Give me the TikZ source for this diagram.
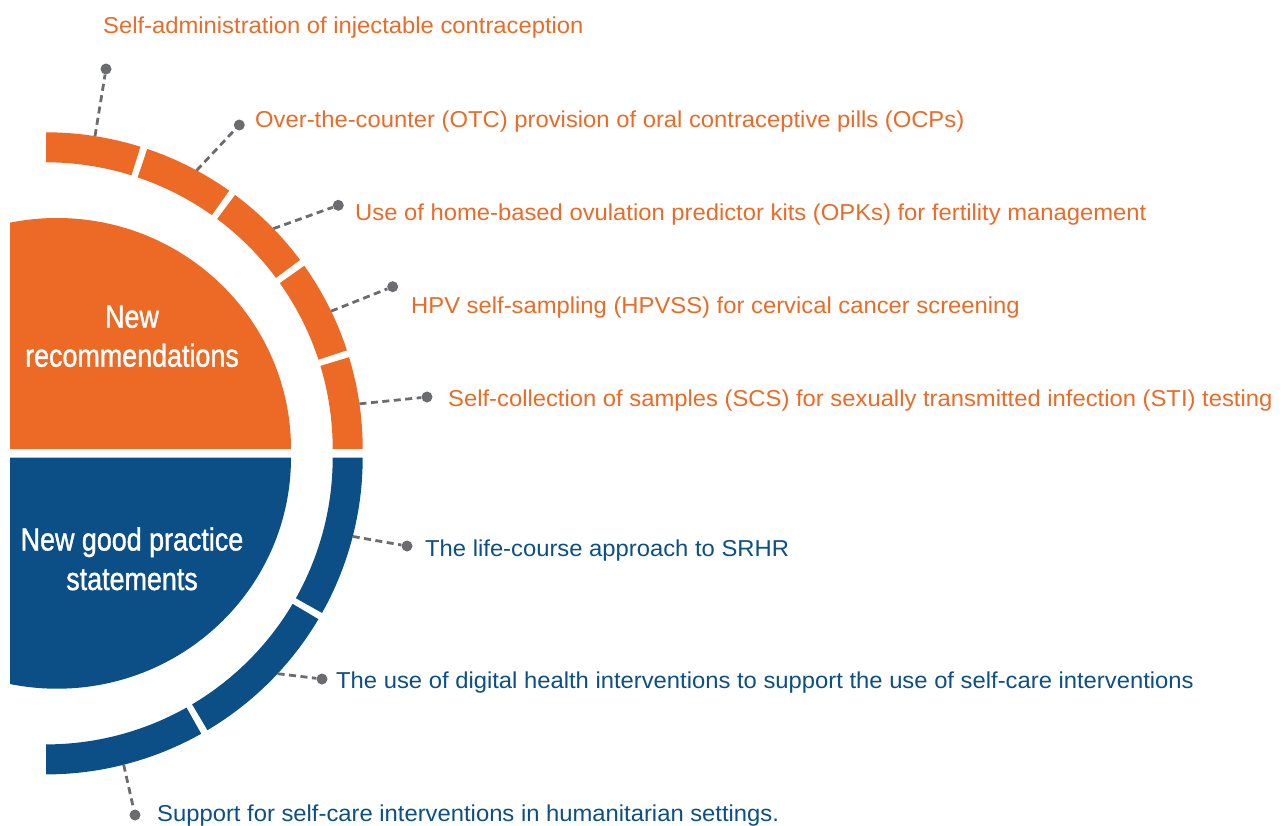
\documentclass[tikz,border=0pt]{standalone}
\usepackage{fontspec}
\setmainfont{Liberation Sans}
\newfontfamily\lblfont[FakeStretch=1.035]{Liberation Sans}
\newfontfamily\discfont[FakeStretch=0.84,FakeBold=1.2]{Liberation Sans}
\usetikzlibrary{calc}
\definecolor{wOrange}{HTML}{EC6A26}
\definecolor{wBlue}{HTML}{0B4F86}
\definecolor{wGray}{HTML}{6B6C70}
\newcommand\ringseg[4]{\fill[#1,shift={(#2)}] (#3:316.7) arc[start angle=#3,end angle=#4,radius=316.7] -- (#4:286.7) arc[start angle=#4,end angle=#3,radius=286.7] -- cycle;}
\begin{document}
\begin{tikzpicture}[x=1pt,y=-1pt,
 conn/.style={wGray, line width=2.8pt, dash pattern=on 7pt off 4.5pt},
 dotn/.style={circle, fill=wGray, inner sep=0pt, minimum size=11pt},
 lab/.style={anchor=base west, inner sep=0pt, font=\lblfont\fontsize{23}{28}\selectfont},
 olab/.style={lab, text=wOrange},
 blab/.style={lab, text=wBlue},
 disclab/.style={anchor=base, inner sep=0pt, text=white, font=\discfont\fontsize{32}{39}\selectfont}]
\useasboundingbox (0,0) rectangle (1283,825);
\coordinate (oc) at (46,449);
\coordinate (bc) at (46,457.7);
\coordinate (odc) at (57,449);
\coordinate (bdc) at (57,457.7);
% inner half discs
\begin{scope}
\clip (10,0) rectangle (1283,825);
\fill[wOrange] ($(odc)+(-234,0)$) arc[start angle=180,end angle=360,x radius=234,y radius=231] -- cycle;
\fill[wBlue] ($(bdc)+(234,0)$) arc[start angle=0,end angle=180,x radius=234,y radius=231] -- cycle;
\end{scope}
% ring segments
\ringseg{wOrange}{oc}{-90}{-72.65}
\ringseg{wOrange}{oc}{-71.35}{-54.65}
\ringseg{wOrange}{oc}{-53.35}{-36.65}
\ringseg{wOrange}{oc}{-35.35}{-18.15}
\ringseg{wOrange}{oc}{-16.85}{0}
\ringseg{wBlue}{bc}{0}{29.35}
\ringseg{wBlue}{bc}{30.65}{59.35}
\ringseg{wBlue}{bc}{60.65}{90}
% disc labels
\node[disclab] (n1a) at (132,327.7) {New};
\node[disclab] (n1b) at (132,366.7) {recommendations};
\node[disclab] (n2a) at (132,550.5) {New good practice};
\node[disclab] (n2b) at (132,590) {statements};
% connector anchors on the ring
\coordinate (p1) at ($(oc)+(-81.1:316.7)$);
\coordinate (p2) at ($(oc)+(-61.6:316.7)$);
\coordinate (p3) at ($(oc)+(-44.1:316.7)$);
\coordinate (p4) at ($(oc)+(-25.8:316.7)$);
\coordinate (p5) at ($(oc)+(-8.2:316.7)$);
\coordinate (p6) at ($(bc)+(14.4:316.7)$);
\coordinate (p7) at ($(bc)+(43:316.7)$);
\coordinate (p8) at ($(bc)+(75.8:316.7)$);
% dots
\node[dotn] (d1) at (106,69) {};
\node[dotn] (d2) at (239.3,125) {};
\node[dotn] (d3) at (338.3,205.3) {};
\node[dotn] (d4) at (392.7,286.7) {};
\node[dotn] (d5) at (427,397) {};
\node[dotn] (d6) at (407,546) {};
\node[dotn] (d7) at (322,679) {};
\node[dotn] (d8) at (135,815) {};
% connectors
\foreach \i in {1,...,8} {\draw[conn] (p\i) -- (d\i);}
% labels
\node[olab] (l1) at (103,33.3) {Self-administration of injectable contraception};
\node[olab] (l2) at (255,127.5) {Over-the-counter (OTC) provision of oral contraceptive pills (OCPs)};
\node[olab] (l3) at (355,220.5) {Use of home-based ovulation predictor kits (OPKs) for fertility management};
\node[olab] (l4) at (411,313) {HPV self-sampling (HPVSS) for cervical cancer screening};
\node[olab] (l5) at (448,406) {Self-collection of samples (SCS) for sexually transmitted infection (STI) testing};
\node[blab] (l6) at (425,556) {The life-course approach to SRHR};
\node[blab] (l7) at (336,688.5) {The use of digital health interventions to support the use of self-care interventions};
\node[blab] (l8) at (157,821.5) {Support for self-care interventions in humanitarian settings.};
\end{tikzpicture}
\end{document}
